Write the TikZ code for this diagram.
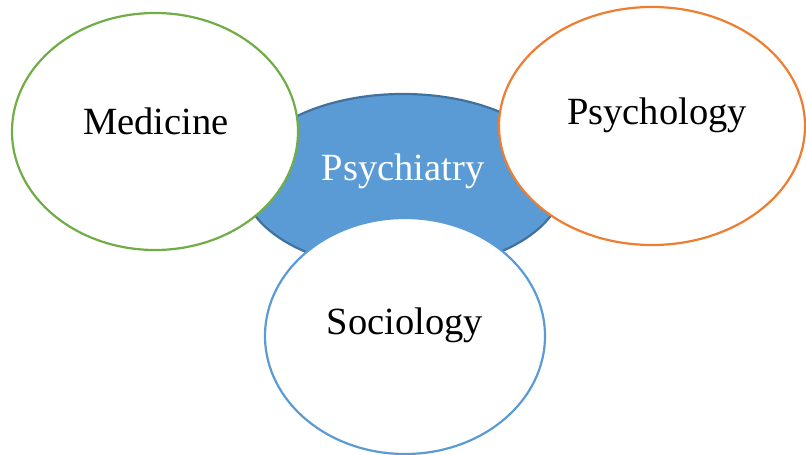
\documentclass[tikz,border=0pt]{standalone}
\usepackage{fontspec}
\setmainfont{Liberation Serif}
\usepackage{tikz}
\usetikzlibrary{
  shapes.geometric, % for the ellipse shape of the fields
}
\definecolor{core}{HTML}{5B9BD5}
\definecolor{coreline}{HTML}{41719C}
\definecolor{medline}{HTML}{70AD47}
\definecolor{psyline}{HTML}{ED7D31}
\tikzset{
  field/.style={ % style for each discipline
    ellipse,draw,line width=2.2pt, % drawn as an outlined ellipse
    fill=white, % covers the central field
    inner sep=0pt,
  },
  corefield/.style={ % style for the central field
    field, % inherit the field style
    fill=core,draw=coreline,
  },
  fieldtext/.style={ % style for the texts
    font=\fontsize{38.5}{42}\selectfont,
    inner sep=0pt,
  },
}

\begin{document}
\begin{tikzpicture}[x=1pt,y=1pt]
  \useasboundingbox (0,0) rectangle (806,455);
  \node[corefield,minimum width=320,minimum height=176] (psi) at (403,273) {};
  \node[field,draw=medline,minimum width=286,minimum height=237] (med) at (155,323.5) {};
  \node[field,draw=psyline,minimum width=306,minimum height=238] (psy) at (652,329) {};
  \node[field,draw=core,minimum width=280,minimum height=236] (soc) at (405,119) {};

  \node[fieldtext,text=white] (psit) at (403,284) {Psychiatry};
  \node[fieldtext] (medt) at (156,334) {Medicine};
  \node[fieldtext] (psyt) at (657,340) {Psychology};
  \node[fieldtext] (soct) at (405,130) {Sociology};
\end{tikzpicture}
\end{document}
